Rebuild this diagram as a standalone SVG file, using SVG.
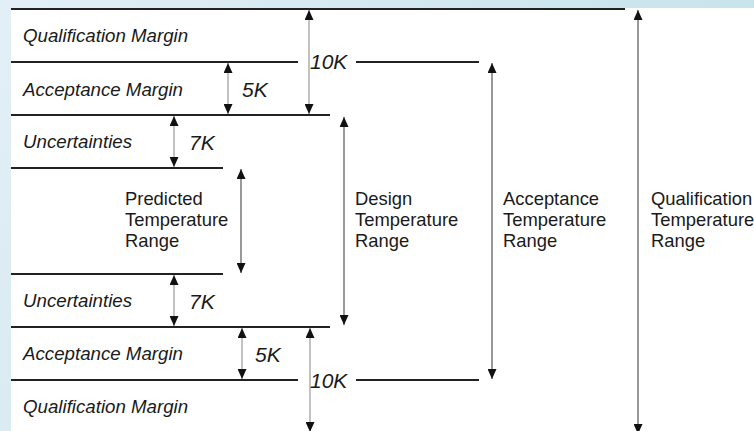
<svg xmlns="http://www.w3.org/2000/svg" width="754" height="431" viewBox="0 0 754 431">
  <defs>
    <linearGradient id="bg" x1="0" y1="0" x2="1" y2="0.3">
      <stop offset="0" stop-color="#e3eff6"/>
      <stop offset="0.5" stop-color="#d3e8ef"/>
      <stop offset="1" stop-color="#c6e3ea"/>
    </linearGradient>
    <marker id="ah" viewBox="0 0 10 9" refX="10" refY="4.5" markerWidth="10" markerHeight="9" markerUnits="userSpaceOnUse" orient="auto-start-reverse">
      <path d="M0,0 L10,4.5 L0,9 z" fill="#111"/>
    </marker>
    <style>
      .lvl { stroke: #222; stroke-width: 2; fill: none; }
      .arr { stroke: #555; stroke-width: 1.2; fill: none; marker-start: url(#ah); marker-end: url(#ah); }
      .arr.light { stroke: #999; }
      .it { font-family: "Liberation Sans", Arial, sans-serif; font-style: italic; font-size: 18.7px; fill: #1a1a1a; }
      .k { font-family: "Liberation Sans", Arial, sans-serif; font-style: italic; font-size: 21px; fill: #1a1a1a; }
      .rg { font-family: "Liberation Sans", Arial, sans-serif; font-size: 18.4px; fill: #1a1a1a; }
    </style>
  </defs>

  <rect x="0" y="0" width="754" height="431" fill="url(#bg)"/>
  <rect x="11" y="8" width="743" height="423" fill="#ffffff"/>

  <g id="levels">
    <line class="lvl" x1="11" y1="9" x2="625" y2="9"/>
    <line class="lvl" x1="11" y1="62" x2="298" y2="62"/>
    <line class="lvl" x1="356" y1="62" x2="479" y2="62"/>
    <line class="lvl" x1="11" y1="115" x2="330" y2="115"/>
    <line class="lvl" x1="11" y1="168" x2="223" y2="168"/>
    <line class="lvl" x1="11" y1="274" x2="223" y2="274"/>
    <line class="lvl" x1="11" y1="327" x2="330" y2="327"/>
    <line class="lvl" x1="11" y1="380" x2="298" y2="380"/>
    <line class="lvl" x1="356" y1="380" x2="479" y2="380"/>
  </g>

  <g id="connectors">
    <line class="arr light" x1="309" y1="10" x2="309" y2="114"/>
    <line class="arr light" x1="228" y1="63" x2="228" y2="114"/>
    <line class="arr light" x1="174" y1="116" x2="174" y2="167"/>
    <line class="arr" x1="241" y1="169" x2="241" y2="273"/>
    <line class="arr" x1="344" y1="117" x2="344" y2="325"/>
    <line class="arr" x1="492" y1="63" x2="492" y2="379"/>
    <line class="arr" x1="638" y1="10" x2="638" y2="434"/>
    <line class="arr light" x1="174" y1="275" x2="174" y2="326"/>
    <line class="arr light" x1="242" y1="328" x2="242" y2="379"/>
    <line class="arr light" x1="310" y1="328" x2="310" y2="432"/>
  </g>

  <g id="qual-margin-top"><text class="it" x="23" y="42">Qualification Margin</text></g>
  <g id="acc-margin-top"><text class="it" x="23" y="96">Acceptance Margin</text></g>
  <g id="uncert-top"><text class="it" x="23" y="148">Uncertainties</text></g>
  <g id="uncert-bottom"><text class="it" x="23" y="307">Uncertainties</text></g>
  <g id="acc-margin-bottom"><text class="it" x="23" y="360">Acceptance Margin</text></g>
  <g id="qual-margin-bottom"><text class="it" x="23" y="413">Qualification Margin</text></g>

  <g id="k10-top"><text class="k" x="310" y="69">10K</text></g>
  <g id="k5-top"><text class="k" x="242" y="97">5K</text></g>
  <g id="k7-top"><text class="k" x="189" y="150">7K</text></g>
  <g id="k7-bottom"><text class="k" x="189" y="309">7K</text></g>
  <g id="k5-bottom"><text class="k" x="255" y="362">5K</text></g>
  <g id="k10-bottom"><text class="k" x="310" y="388">10K</text></g>

  <g id="predicted-range">
    <text class="rg" x="125" y="205">Predicted</text>
    <text class="rg" x="125" y="226">Temperature</text>
    <text class="rg" x="125" y="247">Range</text>
  </g>
  <g id="design-range">
    <text class="rg" x="355" y="205">Design</text>
    <text class="rg" x="355" y="226">Temperature</text>
    <text class="rg" x="355" y="247">Range</text>
  </g>
  <g id="acceptance-range">
    <text class="rg" x="503" y="205">Acceptance</text>
    <text class="rg" x="503" y="226">Temperature</text>
    <text class="rg" x="503" y="247">Range</text>
  </g>
  <g id="qualification-range">
    <text class="rg" x="651" y="205">Qualification</text>
    <text class="rg" x="651" y="226">Temperature</text>
    <text class="rg" x="651" y="247">Range</text>
  </g>
</svg>
